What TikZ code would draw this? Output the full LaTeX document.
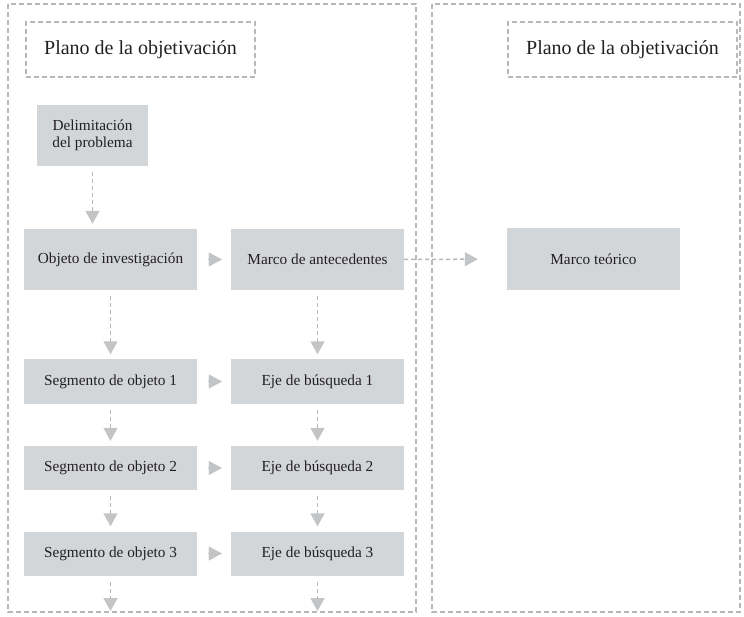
\documentclass[tikz,border=0pt]{standalone}
\usepackage{fontspec}
\setmainfont{Liberation Serif}
\usetikzlibrary{arrows.meta}
\definecolor{cajagris}{HTML}{D3D6D9}
\definecolor{lineagris}{HTML}{B8B8B8}
\definecolor{puntagris}{HTML}{C2C4C6}
\definecolor{texto}{HTML}{231F20}

\tikzset{
  caja/.style={fill=cajagris, text=texto, minimum width=173pt, font=\fontsize{15.3}{17.5}\selectfont, inner sep=0pt},
  titulo/.style={draw=lineagris, dash pattern=on 5pt off 3pt, line width=1.2pt, text=texto, minimum width=229pt, minimum height=55pt, font=\fontsize{20}{24}\selectfont},
  flecha/.style={draw=lineagris, line width=1.5pt, dash pattern=on 4pt off 3pt, -{Triangle[width=14pt,length=13pt,color=puntagris]}},
  punta/.style={draw=puntagris, line width=0.1pt, -{Triangle[width=14pt,length=13pt,color=puntagris]}}
}

\begin{document}
\begin{tikzpicture}[x=1pt,y=-1pt]
\useasboundingbox (0,0) rectangle (744,617);
% marcos
\draw[lineagris, line width=1.2pt, dash pattern=on 5pt off 3pt] (8,4) rectangle (416,612);
\draw[lineagris, line width=1.2pt, dash pattern=on 5pt off 3pt] (432,4) rectangle (740,612);

\node[titulo] (tit1) at (140.5,49.5) {Plano de la objetivación};
\node[titulo] (tit2) at (622.5,49.5) {Plano de la objetivación};

\node[caja, minimum width=111pt, minimum height=61pt, align=center] (del) at (92.5,135.5) {Delimitación\\del problema};
\node[caja, minimum height=61pt] (obj) at (110.5,259.5) {Objeto de investigación};
\node[caja, minimum height=61pt] (ant) at (317.5,259.5) {Marco de antecedentes};
\node[caja, minimum height=62pt] (teo) at (593.5,259) {Marco teórico};

\node[caja, minimum height=44pt] (seg1) at (110.5,381.5) {Segmento de objeto 1};
\node[caja, minimum height=44pt] (eje1) at (317.5,381.5) {Eje de búsqueda 1};
\node[caja, minimum height=44pt] (seg2) at (110.5,468) {Segmento de objeto 2};
\node[caja, minimum height=44pt] (eje2) at (317.5,468) {Eje de búsqueda 2};
\node[caja, minimum height=44pt] (seg3) at (110.5,553.5) {Segmento de objeto 3};
\node[caja, minimum height=44pt] (eje3) at (317.5,553.5) {Eje de búsqueda 3};

\coordinate (fin1) at (110.5,611);
\coordinate (fin2) at (317.5,611);

% flechas verticales
\draw[flecha, shorten <=6pt, shorten >=5pt] (del) -- (del |- obj.north);
\draw[flecha, shorten <=6pt, shorten >=5pt] (obj) -- (seg1);
\draw[flecha, shorten <=6pt, shorten >=5pt] (ant) -- (eje1);
\draw[flecha, shorten <=6pt, shorten >=5pt] (seg1) -- (seg2);
\draw[flecha, shorten <=6pt, shorten >=5pt] (eje1) -- (eje2);
\draw[flecha, shorten <=6pt, shorten >=5pt] (seg2) -- (seg3);
\draw[flecha, shorten <=6pt, shorten >=5pt] (eje2) -- (eje3);
\draw[flecha, shorten <=6pt] (seg3) -- (fin1);
\draw[flecha, shorten <=6pt] (eje3) -- (fin2);

% flechas horizontales
\draw[punta, shorten <=11pt, shorten >=9pt] (obj) -- (ant);
\draw[punta, shorten <=11pt, shorten >=9pt] (seg1) -- (eje1);
\draw[punta, shorten <=11pt, shorten >=9pt] (seg2) -- (eje2);
\draw[punta, shorten <=11pt, shorten >=9pt] (seg3) -- (eje3);
\draw[flecha, shorten >=29pt] (ant) -- (teo);
\end{tikzpicture}
\end{document}
